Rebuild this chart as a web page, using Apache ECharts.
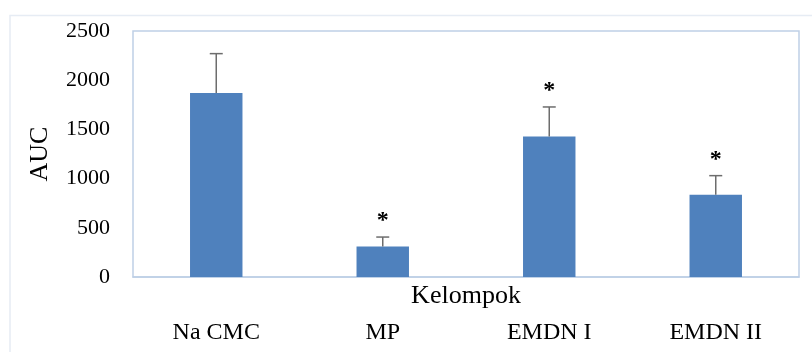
<!DOCTYPE html>
<html><head><meta charset="utf-8">
<script src="https://cdn.jsdelivr.net/npm/echarts@6/dist/echarts.min.js"></script>
<style>html,body{margin:0;padding:0;background:#fff}#c{width:812px;height:352px}</style>
</head><body><div id="c"></div>
<script>
var categories = ['Na CMC', 'MP', 'EMDN I', 'EMDN II'];
var aucMean = [1870, 310, 1427, 837];
var aucErr = [400, 96, 301, 193];
var significant = [false, true, true, true];
var yTicks = [0, 500, 1000, 1500, 2000, 2500];

var serif = '"Liberation Serif", "Times New Roman", serif';
var chart = echarts.init(document.getElementById('c'));
var errData = categories.map(function (c, i) { return [i, aucMean[i], aucMean[i] + aucErr[i], significant[i] ? 1 : 0]; });

chart.setOption({
  animation: false,
  graphic: [{
    type: 'polyline', silent: true,
    shape: { points: [[10, 352], [10, 15.5], [812, 15.5]] },
    style: { stroke: '#e6ecf4', lineWidth: 1.5, fill: null }
  }],
  grid: { left: 133, top: 31, right: 13, bottom: 75, show: true, borderColor: '#bfd0e6', borderWidth: 1.5,
    containLabel: false, outerBoundsMode: 'none' },
  xAxis: {
    type: 'category', data: categories,
    name: 'Kelompok', nameLocation: 'middle', nameGap: 6, nameMoveOverlap: false,
    nameTextStyle: { fontFamily: serif, fontSize: 26, color: '#000', verticalAlign: 'top' },
    axisLine: { lineStyle: { color: '#bfd0e6', width: 1.5 } },
    axisTick: { show: false },
    axisLabel: { fontFamily: serif, fontSize: 24, color: '#000', margin: 44 }
  },
  yAxis: {
    type: 'value', min: 0, max: 2500, interval: 500,
    name: 'AUC', nameLocation: 'middle', nameGap: 80, nameMoveOverlap: false,
    nameTextStyle: { fontFamily: serif, fontSize: 26, color: '#000' },
    axisLine: { show: false }, axisTick: { show: false }, splitLine: { show: false },
    axisLabel: { fontFamily: serif, fontSize: 22, color: '#000', margin: 23,
      formatter: function (v) { return yTicks.indexOf(v) >= 0 ? String(v) : ''; } }
  },
  series: [{
    type: 'bar', data: aucMean, barWidth: '31.5%',
    itemStyle: { color: '#4f81bd' }, z: 2
  }, {
    type: 'custom', data: errData, z: 3,
    encode: { x: 0, y: [1, 2] },
    renderItem: function (params, api) {
      var x = api.value(0);
      var base = api.coord([x, api.value(1)]);
      var top = api.coord([x, api.value(2)]);
      var children = [
        { type: 'line', shape: { x1: base[0], y1: base[1], x2: top[0], y2: top[1] }, style: { stroke: '#6d6d6d', lineWidth: 1.5 } },
        { type: 'line', shape: { x1: top[0] - 6.5, y1: top[1], x2: top[0] + 6.5, y2: top[1] }, style: { stroke: '#6d6d6d', lineWidth: 1.5 } }
      ];
      if (api.value(3)) {
        children.push({ type: 'text', style: { text: '*', x: top[0], y: top[1] - 4, align: 'center', verticalAlign: 'bottom',
          font: 'bold 24px ' + serif, fill: '#000' } });
      }
      return { type: 'group', children: children };
    }
  }]
});
</script></body></html>
